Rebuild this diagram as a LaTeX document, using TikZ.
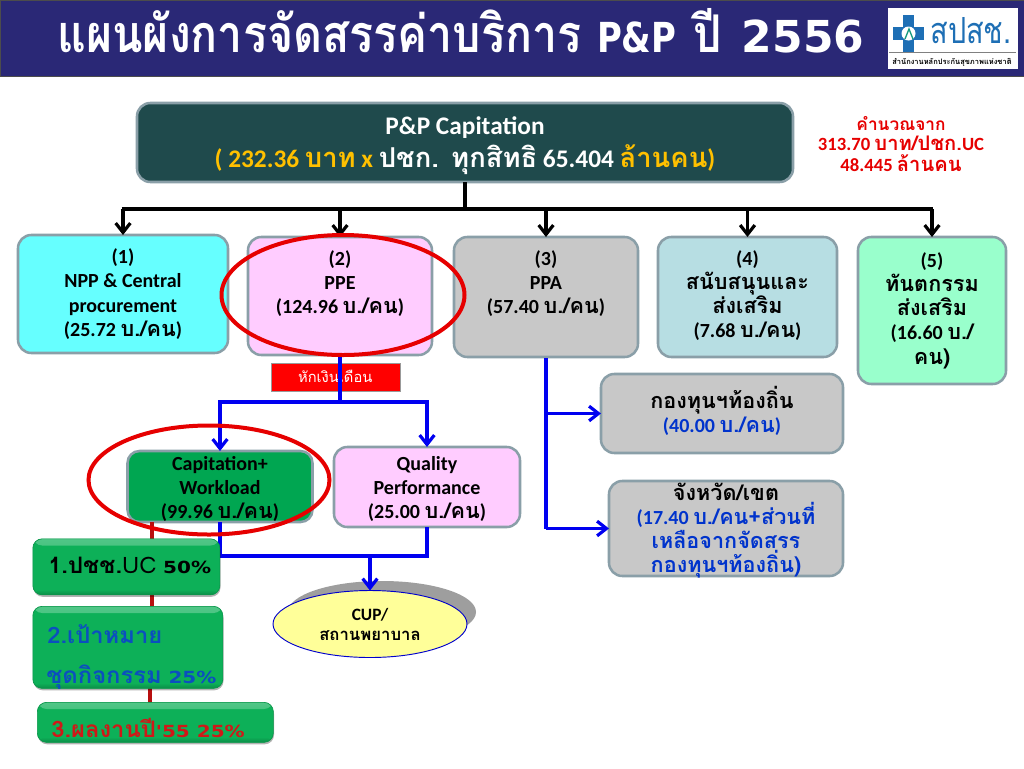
\documentclass[tikz,border=0pt]{standalone}
\usepackage{fontspec}
\usetikzlibrary{shadows,arrows.meta,calc,shapes.geometric}
\setmainfont{Carlito}
\newfontfamily\thaifont[Script=Thai,Scale=1.08]{Loma}
\newfontfamily\thaiwide[Script=Thai,FakeStretch=1.05]{Loma}
\newfontfamily\thaititle[Script=Thai,FakeStretch=0.86]{Loma}
\newfontfamily\thailogo[Script=Thai,FakeStretch=0.8]{Loma}
\newfontfamily\latinwide[FakeStretch=1.2]{DejaVu Sans}
\newfontfamily\latintitle[FakeStretch=0.82]{DejaVu Sans}
\newfontfamily\digittitle{DejaVu Sans}
\newcommand{\T}[1]{{\thaifont\bfseries #1}}
\definecolor{hdr}{HTML}{2A2876}
\definecolor{tealb}{HTML}{1F4A4C}
\definecolor{edgeg}{HTML}{8A9FA8}
\definecolor{gold}{HTML}{FFC000}
\definecolor{gbox}{HTML}{0DB058}
\definecolor{blueL}{HTML}{0000F0}
\definecolor{redL}{HTML}{E60000}
\definecolor{dred}{HTML}{B80F0F}
\definecolor{logoB}{HTML}{1E6FB5}
\definecolor{bcyan}{HTML}{66FFFF}
\definecolor{bpink}{HTML}{FFCCFF}
\definecolor{bgray}{HTML}{C8C8C8}
\definecolor{bpale}{HTML}{B7DEE3}
\definecolor{bmint}{HTML}{99FFCC}
\definecolor{bgreen}{HTML}{00A651}
\definecolor{byell}{HTML}{FFFF99}
\definecolor{tblue}{HTML}{0033CC}
\definecolor{gblue}{HTML}{0B4FBF}
\definecolor{gred}{HTML}{D01818}
\tikzset{
  x=0.75pt,y=-0.75pt,
  pbox/.style={draw=edgeg,line width=1.9pt,rounded corners=10pt,inner sep=2pt,outer sep=0pt,align=center,font=\fontsize{15}{18.2}\selectfont\bfseries},
  ptext/.style={inner sep=0pt,align=center,font=\fontsize{15}{18}\selectfont\bfseries},
  gbtn/.style={draw=gbox!85!black,line width=0.5pt,rounded corners=7pt,fill=gbox,
     drop shadow={shadow xshift=0.5pt,shadow yshift=-1.5pt,fill=black,opacity=0.3},inner sep=0pt,
     path picture={
       \shade[top color=gbox!72!white,bottom color=gbox] (path picture bounding box.north west) rectangle ([yshift=-5pt]path picture bounding box.north east);
       \shade[top color=gbox,bottom color=gbox!80!black] ([yshift=4pt]path picture bounding box.south west) rectangle (path picture bounding box.south east);
     }},
  blk/.style={-{Straight Barb[length=7pt,width=11pt,line width=2.4pt]},line width=2.6pt,black},
  blkline/.style={line width=2.6pt,black},
  blu/.style={-{Straight Barb[length=7pt,width=11pt,line width=2.4pt]},line width=2.5pt,blueL},
  bluline/.style={line width=2.5pt,blueL},
  ring/.style={draw=redL,line width=3pt,ellipse,fill=none},
  redl/.style={line width=3.2pt,dred}
}
\begin{document}
\begin{tikzpicture}
\useasboundingbox (0,0) rectangle (1024,768);
\fill[white] (0,0) rectangle (1024,768);
% header
\fill[hdr,draw=black!70,line width=0.6pt] (0,0) rectangle (1024,76);
\node[text=white,anchor=base west,inner sep=0pt,font=\fontsize{39}{39}\selectfont] (title) at (57,52)
  {{\thaititle\bfseries แผนผังการจัดสรรค่าบริการ}\hspace{3pt} {\latintitle\bfseries\fontsize{31}{31}\selectfont P\&P}\hspace{4pt} {\thaititle\bfseries ปี}\hspace{15pt}{\digittitle\bfseries\fontsize{33}{33}\selectfont 2556}};
% logo
\fill[white] (888,8) rectangle (1018,69);
\fill[logoB] (903,15) rectangle (914,52);
\fill[logoB] (893,27) rectangle (924,40);
\fill[white] (908.5,33.5) circle [radius=7];
\draw[logoB!70!green,line width=1pt] (905,39) -- (909,29) -- (913,39);
\node[text=logoB,inner sep=0pt,font=\thailogo\fontsize{27}{27}\selectfont] (logot) at (971,31) {สปสช.};
\draw[black!50,line width=0.7pt] (889,52) -- (1016,52);
\node[inner sep=0pt,font=\thaifont\bfseries\fontsize{5.2}{7}\selectfont] (logos) at (952,62) {สำนักงานหลักประกันสุขภาพแห่งชาติ};
% top box
\node[pbox,fill=tealb,text=white,minimum width=656*0.75pt,minimum height=79*0.75pt,anchor=north west] (top) at (137,103) {};
\node[text=white,inner sep=0pt,font=\fontsize{19}{22}\selectfont\bfseries] (t1) at (465,128) {P\&P Capitation};
\node[inner sep=0pt,font=\fontsize{19}{22}\selectfont\bfseries] (t2) at (465,160) {\textcolor{gold}{( 232.36 \T{บาท} x }\textcolor{white}{\T{ปชก. ทุกสิทธิ} 65.404 }\textcolor{gold}{\T{ล้านคน})}};
% note
\node[text=redL,align=center,inner sep=0pt,font=\fontsize{14}{15.4}\selectfont\bfseries] (note) at (901,144) {\T{\fontsize{12}{15.4}\selectfont คำนวณจาก}\\313.70 \T{บาท/ปชก.}UC\\48.445 \T{ล้านคน}};
% row boxes
\node[pbox,fill=bcyan,minimum width=210*0.75pt,minimum height=118*0.75pt,anchor=north west] (b1) at (18,235) {(1)\\NPP \& Central\\procurement\\ (25.72 \T{บ./คน})};
\node[pbox,fill=bpink,minimum width=184*0.75pt,minimum height=118*0.75pt,anchor=north west] (b2) at (248,237) {};
\node[ptext] (b2t) at (340,284) {(2)\\PPE\\(124.96 \T{บ./คน})};
\node[pbox,fill=bgray,minimum width=184*0.75pt,minimum height=120*0.75pt,anchor=north west] (b3) at (454,237) {};
\node[ptext] (b3t) at (546,284) {(3)\\PPA\\(57.40 \T{บ./คน})};
\node[pbox,fill=bpale,minimum width=179*0.75pt,minimum height=120*0.75pt,anchor=north west] (b4) at (658,237) {};
\node[ptext] (b4t) at (747.5,296) {(4)\\\T{สนับสนุนและ}\\\T{ส่งเสริม}\\(7.68 \T{บ./คน})};
\node[pbox,fill=bmint,minimum width=148*0.75pt,minimum height=147*0.75pt,anchor=north west] (b5) at (858,237) {(5)\\\T{ทันตกรรม}\\\T{ส่งเสริม}\\(16.60 \T{บ./}\\\T{คน)}};
\node[fill=red,draw=black!40,line width=0.4pt,minimum width=129*0.75pt,minimum height=28*0.75pt,inner sep=0pt,anchor=north west,text=white,font=\thaifont\fontsize{10.2}{13}\selectfont] (cut) at (270.5,362.5) {หักเงินเดือน};
\node[pbox,fill=bgray,minimum width=242*0.75pt,minimum height=79*0.75pt,anchor=north west] (fund) at (601,374) {};
\node[ptext] (fundt) at (722,411) {\T{กองทุนฯท้องถิ่น}\\\textcolor{tblue}{(40.00 \T{บ./คน})}};
\node[pbox,fill=bgray,minimum width=234*0.75pt,minimum height=95*0.75pt,anchor=north west] (prov) at (609,481) {};
\node[ptext] (provt) at (726,531) {\T{จังหวัด/เขต}\\\textcolor{tblue}{(17.40 \T{บ./คน+ส่วนที่}}\\\textcolor{tblue}{\T{เหลือจากจัดสรร}}\\\textcolor{tblue}{\T{กองทุนฯท้องถิ่น)}}};
\node[pbox,rounded corners=9pt,minimum width=185*0.75pt,minimum height=71*0.75pt,anchor=north west,fill=bgreen] (cap) at (127.5,451) {};
\node[ptext] (capt) at (220,489) {Capitation+\\Workload\\(99.96 \T{บ./คน})};
\node[pbox,fill=bpink,minimum width=186*0.75pt,minimum height=80*0.75pt,anchor=north west] (qual) at (334,447) {};
\node[ptext] (qualt) at (427,489) {Quality\\Performance\\(25.00 \T{บ./คน})};
% cup
\fill[black!38] (382,612) ellipse [x radius=94,y radius=31];
\node[draw=blue!80!black,line width=0.7pt,fill=byell,ellipse,minimum width=194*0.75pt,minimum height=67*0.75pt,inner sep=0pt,outer sep=0pt,align=center,font=\fontsize{13}{15}\selectfont\bfseries] (cup) at (370,624) {CUP/\\\T{\fontsize{11.6}{13}\selectfont สถานพยาบาล}};
% connector anchors
\coordinate (bus) at (top.south |- 0,209);
\coordinate (bl) at (b1.north |- bus);
\coordinate (br) at (b5.north |- bus);
\coordinate (ppeb) at (b2.south |- 0,402);
\coordinate (capb) at (cap.north |- ppeb);
\coordinate (qualb) at (qual.north |- ppeb);
\coordinate (ppaf) at (546,358);
\coordinate (jn) at (370,556);
% black tree
\draw[blkline] (top.south) -- (bus);
\draw[blkline] ([xshift=-1pt]bl) -- ([xshift=1pt]br);
\draw[blk] (bl) -- (b1.north);
\draw[blk] (b2.north |- bus) -- (b2.north);
\draw[blk] (b3.north |- bus) -- (b3.north);
\draw[blk] (b4.north |- bus) -- (b4.north);
\draw[blk] (br) -- (b5.north);
% blue
\draw[bluline] (b2.south) -- (ppeb);
\draw[blu] (ppeb) -- (capb) -- (cap.north);
\draw[blu] (ppeb) -- (qualb) -- (qual.north);
\draw[bluline] (ppaf) -- (ppaf |- prov.west);
\draw[blu] (ppaf |- fund.west) -- (fund.west);
\draw[blu] (ppaf |- prov.west) -- (prov.west);
\draw[bluline] (cap.south) -- (cap.south |- jn) -- (jn);
\draw[bluline] (qual.south) -- (qual.south |- jn) -- (jn);
\draw[blu] (jn) -- (cup.north);
% red stem and green buttons
\coordinate (stemtop) at (152,522);
\draw[redl] (stemtop) -- (152,650) -- (150,650) -- (150,705);
\node[gbtn,minimum width=187*0.75pt,minimum height=56*0.75pt,anchor=north west] (g1) at (32.5,538.5) {};
\node[gbtn,minimum width=190*0.75pt,minimum height=82*0.75pt,anchor=north west] (g2) at (32.5,606) {};
\node[gbtn,minimum width=236*0.75pt,minimum height=40*0.75pt,anchor=north west] (g3) at (37,702) {};
\node[anchor=base west,inner sep=0pt,font=\fontsize{17}{17}\selectfont] (g1t) at (48,573) {{\thaiwide\bfseries 1.ปชช.}{\thaiwide\fontsize{17}{17}\selectfont UC}\hspace{5pt}{\latinwide\bfseries\fontsize{12.5}{13}\selectfont 50\%}};
\node[anchor=base west,inner sep=0pt,text=gblue,font=\fontsize{17}{17}\selectfont] (g2t) at (47,643) {{\thaiwide\bfseries 2.เป้าหมาย}};
\node[anchor=base west,inner sep=0pt,text=gblue,font=\fontsize{17}{17}\selectfont] (g2u) at (46,683) {{\thaiwide\bfseries ชุดกิจกรรม}\hspace{5pt}{\latinwide\bfseries\fontsize{12.5}{13}\selectfont 25\%}};
\node[anchor=base west,inner sep=0pt,text=gred,font=\fontsize{17}{17}\selectfont] (g3t) at (51,737) {{\thaiwide\bfseries 3.ผลงานปี}{\latinwide\bfseries\fontsize{12.5}{13}\selectfont '55 25\%}};
% red rings
\node[ring,minimum width=243*0.75pt,minimum height=120*0.75pt] (r1) at (343,295) {};
\node[ring,minimum width=241*0.75pt,minimum height=109*0.75pt] (r2) at (209,480) {};
\end{tikzpicture}
\end{document}
